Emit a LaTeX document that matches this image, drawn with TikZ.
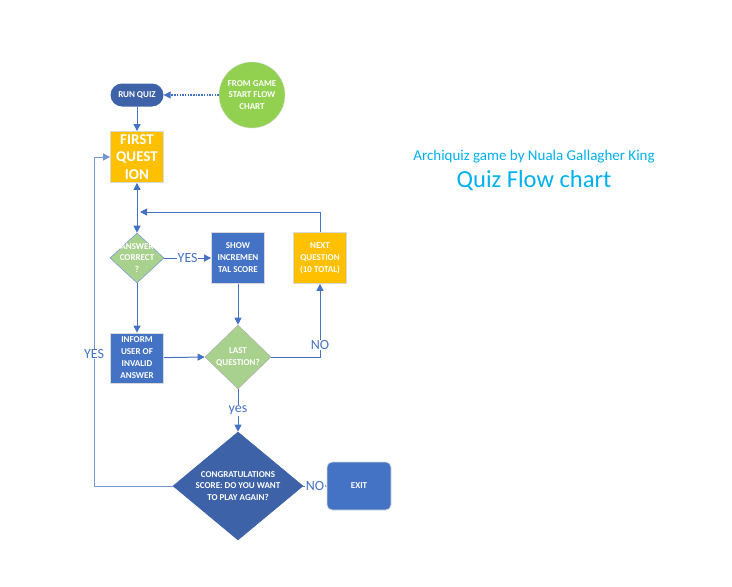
\documentclass[tikz,border=0pt]{standalone}
\usepackage{fontspec}
\setmainfont{Carlito}
\usetikzlibrary{shapes.geometric, arrows.meta}

\definecolor{darkblue}{HTML}{3D62A8}
\definecolor{midblue}{HTML}{4472C4}
\definecolor{qorange}{HTML}{FFC000}
\definecolor{lightgreen}{HTML}{A9D18E}
\definecolor{startgreen}{HTML}{92D050}
\definecolor{titleblue}{HTML}{00B0F0}

\begin{document}
\begin{tikzpicture}[x=1pt, y=-1pt,
    >={Triangle[width=7pt,length=7pt]},
    box/.style={draw=gray!30, line width=0.8pt, minimum width=53pt, minimum height=51pt, inner sep=0pt,
      text=white, align=center, font=\bfseries\fontsize{9}{12}\selectfont},
    decision/.style={diamond, draw=midblue!70, line width=0.6pt, inner sep=0pt},
    inside/.style={text=white, align=center, font=\bfseries\fontsize{9}{11.5}\selectfont},
    link/.style={draw=midblue, line width=1pt, ->},
    lbl/.style={text=midblue, fill=white, inner sep=0.5pt, font=\fontsize{14}{14}\selectfont}]
    \useasboundingbox (0,0) rectangle (732,587);

    % Start of the quiz
    \node[draw=gray!30, fill=startgreen, circle, minimum size=66pt, inner sep=0pt, inside] (start) at (252,95)
      {FROM GAME\\START FLOW\\CHART};
    \node[fill=darkblue, rounded corners=11.5pt, minimum width=53pt, minimum height=23pt, inner sep=0pt, inside] (run) at (137,95) {RUN QUIZ};
    \node[box, fill=qorange, font=\bfseries\fontsize{15}{17.5}\selectfont] (first) at (137,157) {FIRST\\QUEST\\ION};

    % Decisions and boxes
    \node[decision, fill=lightgreen, minimum width=54pt, minimum height=50pt,
      label={[inside]center:ANSWER\\CORRECT\\?}] (answer) at (137,258) {};
    \node[box, fill=midblue] (show) at (238,258) {SHOW\\INCREMEN\\TAL SCORE};
    \node[box, fill=qorange] (next) at (320,258) {NEXT\\QUESTION\\(10 TOTAL)};
    \node[box, fill=midblue, minimum height=50pt] (inform) at (137,358) {INFORM\\USER OF\\INVALID\\ANSWER};
    \node[decision, fill=lightgreen, draw=gray!60, minimum width=66pt, minimum height=64pt,
      label={[inside]center:LAST\\QUESTION?}] (last) at (238,357) {};
    \node[decision, fill=darkblue, draw=darkblue, minimum width=130pt, minimum height=108pt,
      label={[inside]center:CONGRATULATIONS\\SCORE: DO YOU WANT\\TO PLAY AGAIN?}] (congrats) at (238,486) {};
    \node[box, fill=midblue, rounded corners=5pt, minimum width=64pt, minimum height=48pt] (exit) at (359,486) {EXIT};

    % Title
    \node[text=titleblue, font=\fontsize{15}{16}\selectfont] (author) at (534,157) {Archiquiz game by Nuala Gallagher King};
    \node[text=titleblue, font=\fontsize{24.5}{25}\selectfont] (title) at (534,181) {Quiz Flow chart};

    % Connectors
    \coordinate (back) at (140,212);
    \coordinate (yesturn) at (94,486);
    \draw[link, dash pattern=on 1.5pt off 1.2pt, line width=1.3pt] (start) -- (run);
    \draw[link] (run) -- (first);
    \draw[link, <->] (first) -- (answer);
    \draw[link] (answer.east) -- node[lbl]{YES} (show.west);
    \draw[link] (show) -- (last.north);
    \draw[link] (answer.south) -- (inform);
    \draw[link] (inform) -- (last.west);
    \draw[link] (last.east) -| node[lbl, pos=0.58]{NO} (next.south);
    \draw[link] (next.north) |- (back);
    \draw[link] (last.south) -- node[lbl]{yes} (congrats.north);
    \draw[link] (congrats.east) -- node[lbl]{NO} (exit.west);
    \draw[link, draw=midblue!75] (congrats.west) -- (yesturn) |- node[lbl, pos=0.2]{YES} (first.west);
\end{tikzpicture}
\end{document}
